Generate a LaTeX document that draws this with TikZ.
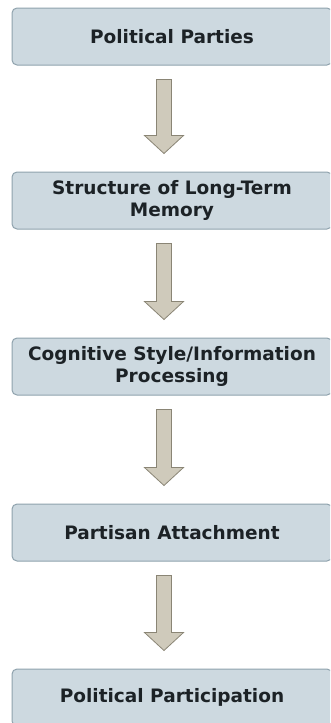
\documentclass[tikz,border=0pt]{standalone}
\usepackage{fontspec}
\setmainfont{DejaVu Sans}
\usetikzlibrary{calc}
\definecolor{boxfill}{HTML}{CDD9E0}
\definecolor{boxline}{HTML}{8FA2AD}
\definecolor{arrowfill}{HTML}{CFCABB}
\definecolor{arrowline}{HTML}{8A8575}
\definecolor{labeltext}{HTML}{1C2226}
\tikzset{
  stagebox/.style={draw=boxline, fill=boxfill, line width=1pt, rounded corners=5pt,
    minimum width=320pt, minimum height=57pt, inner sep=0pt, align=center,
    text=labeltext, font=\bfseries\fontsize{18.5}{22}\selectfont},
  blockarrow/.style={draw=arrowline, fill=arrowfill, line width=0.8pt, line join=miter}
}
% block arrow from the bottom of one box to the top of the next
\newcommand{\flowarrow}[2]{%
  \draw[blockarrow] let \p1=($(#1.south)+(-8pt,-14pt)$), \p2=($(#2.north)+(-8pt,18pt)$) in
    (\x1-7.5pt,\y1) -- (\x1+7.5pt,\y1) -- (\x1+7.5pt,\y2+18pt) -- (\x1+19.5pt,\y2+18pt)
    -- (\x1,\y2) -- (\x1-19.5pt,\y2+18pt) -- (\x1-7.5pt,\y2+18pt) -- cycle;}
\begin{document}
\begin{tikzpicture}[x=1pt,y=1pt]
\useasboundingbox (0,0) rectangle (330,-723);
\clip (0,0) rectangle (330,-723);
\node[stagebox] (parties)   at (172,-36.5)  {Political Parties};
\node[stagebox] (memory)    at (172,-200.5) {Structure of Long-Term\\Memory};
\node[stagebox] (cognitive) at (172,-366.5) {Cognitive Style/Information\\Processing};
\node[stagebox] (partisan)  at (172,-532.5) {Partisan Attachment};
\node[stagebox] (participation) at (172,-697.5) {Political Participation};
\flowarrow{parties}{memory}
\flowarrow{memory}{cognitive}
\flowarrow{cognitive}{partisan}
\flowarrow{partisan}{participation}
\end{tikzpicture}
\end{document}
